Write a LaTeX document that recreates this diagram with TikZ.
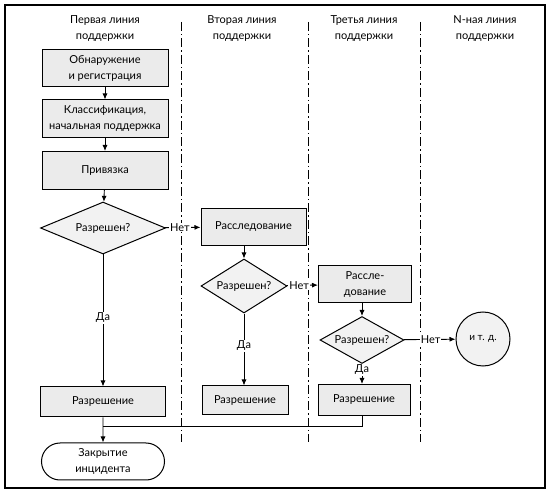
\documentclass[tikz,border=0pt]{standalone}
\usepackage{fontspec}
\setmainfont{Lato}
\usetikzlibrary{shapes.geometric,shapes.misc,arrows.meta}

\begin{document}
\begin{tikzpicture}[x=1pt,y=-1pt,
    font=\fontsize{11}{16}\selectfont,
    box/.style={draw,line width=1pt,fill=black!8,align=center,inner sep=1pt},
    decision/.style={diamond,draw,line width=1pt,fill=black!5,inner xsep=-10pt,inner ysep=0pt,aspect=1.5},
    lane/.style={dash pattern=on 9pt off 3pt on 1.5pt off 3pt,line width=1pt},
    flow/.style={-{Latex[length=6pt,width=5pt]},line width=0.9pt},
    tag/.style={fill=white,inner sep=1pt}]
  \useasboundingbox (0,0) rectangle (550,492);
  % Draw frame and lanes
  \draw[line width=1.2pt] (5,5) rectangle (545,488);
  \foreach \x in {181,308,420}
    \draw[lane] (\x,22) -- (\x,442);
  \node[align=center] (hdA) at (105,28.5) {Первая линия\\поддержки};
  \node[align=center] (hdB) at (242,28.5) {Вторая линия\\поддержки};
  \node[align=center] (hdC) at (364,28.5) {Третья линия\\поддержки};
  \node[align=center] (hdN) at (485,28.5) {N-ная линия\\поддержки};

  % First line
  \node[box,minimum width=126pt,minimum height=37pt] (detect) at (105,68.5) {Обнаружение\\и регистрация};
  \node[box,minimum width=126pt,minimum height=38pt] (classify) at (105,119) {Классификация,\\начальная поддержка};
  \node[box,minimum width=126pt,minimum height=38pt] (bind) at (105,170.5) {Привязка};
  \node[decision,minimum width=125pt,minimum height=52pt] (solvedA) at (103,228) {Разрешен?};
  \node[box,minimum width=125pt,minimum height=30pt] (fixA) at (103,402) {Разрешение};
  \node[rounded rectangle,draw,line width=1pt,align=center,inner sep=1pt,
        minimum width=125pt,minimum height=37pt] (close) at (103,461.5) {Закрытие\\инцидента};

  % Second line
  \node[box,minimum width=105pt,minimum height=37pt] (probeB) at (253.5,227) {Расследование};
  \node[decision,minimum width=86pt,minimum height=54pt] (solvedB) at (244,286) {Разрешен?};
  \node[box,minimum width=86pt,minimum height=29pt] (fixB) at (245,400.5) {Разрешение};

  % Third line
  \node[box,minimum width=93pt,minimum height=37pt] (probeC) at (365,284.5) {Рассле-\\дование};
  \node[decision,minimum width=84pt,minimum height=47pt] (solvedC) at (362,340) {Разрешен?};
  \node[box,minimum width=92pt,minimum height=31pt] (fixC) at (364,400) {Разрешение};

  % N-th line
  \node[circle,draw,line width=1pt,fill=black!5,minimum size=54pt,inner sep=0pt,
        font=\fontsize{10}{12}\selectfont] (etc) at (483,339) {и т. д.};

  % Connectors
  \draw[flow] (detect) -- (classify);
  \draw[flow] (classify) -- (bind);
  \draw[flow] (bind) -- (solvedA);
  \draw[flow] (solvedA) -- node[tag,pos=0.42] {Нет} (probeB);
  \draw[flow] (solvedA) -- node[tag,pos=0.48] {Да} (fixA);
  \draw[flow] (solvedB.north |- probeB.south) -- (solvedB);
  \draw[flow] (solvedB) -- node[tag,pos=0.4] {Нет} (probeC);
  \draw[flow] (solvedB) -- node[tag,pos=0.45] {Да} (fixB.north -| solvedB);
  \draw[flow] (solvedC.north |- probeC.south) -- (solvedC);
  \draw[flow] (solvedC) -- node[tag,pos=0.52] {Нет} (etc);
  \draw[flow] (solvedC) -- node[tag,pos=0.3] {Да} (fixC.north -| solvedC);
  \coordinate (join) at (103,426);
  \draw[line width=0.9pt] (fixC.south -| solvedC) |- (join);
  \draw[line width=0.9pt] (fixB.south -| solvedB) -- (fixB.south -| solvedB |- join);
  \draw[flow] (fixA) -- (close);
\end{tikzpicture}
\end{document}
